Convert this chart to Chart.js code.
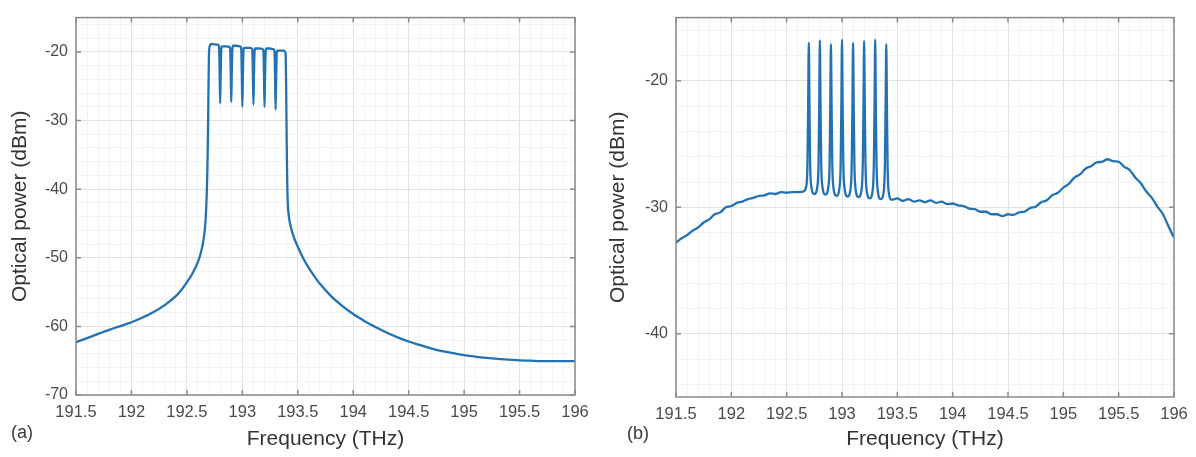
<!DOCTYPE html>
<html>
<head>
<meta charset="utf-8">
<script src="https://cdn.jsdelivr.net/npm/chart.js@4.4.1/dist/chart.umd.min.js"></script>
<style>
  html, body { margin: 0; padding: 0; background: #fff; }
  body { width: 1196px; height: 457px; position: relative; overflow: hidden; font-family: "Liberation Sans", Arial, sans-serif; }
  .panel { position: absolute; top: 0; width: 598px; height: 457px; }
  .tag { position: absolute; font-size: 18px; line-height: 1; color: #3a3a3a; }
</style>
</head>
<body>
<div class="panel" style="left:0"><canvas id="chartA" width="598" height="457"></canvas></div>
<div class="panel" style="left:598px"><canvas id="chartB" width="598" height="457"></canvas></div>
<div class="tag" style="left:11px; top:423px">(a)</div>
<div class="tag" style="left:627px; top:424px">(b)</div>
<script>
// tick labels
const freqTicks = [191.5, 192, 192.5, 193, 193.5, 194, 194.5, 195, 195.5, 196]
const powerTicksA = [-70, -60, -50, -40, -30, -20]
const powerTicksB = [-40, -30, -20]

// (a) spectrum
const freqA = [191.5, 191.6, 191.7, 191.8, 191.9, 192.0, 192.1, 192.2, 192.3, 192.4, 192.45, 192.5, 192.55, 192.6, 192.63, 192.65, 192.665, 192.675, 192.685, 192.69, 192.695, 192.7,
  192.71, 192.72, 192.75, 192.78, 192.79, 192.795, 192.8, 192.805, 192.81, 192.817,
  192.85, 192.88, 192.89, 192.895, 192.9, 192.905, 192.91, 192.917,
  192.95, 192.98, 192.99, 192.995, 193.0, 193.005, 193.01, 193.017,
  193.05, 193.08, 193.09, 193.095, 193.1, 193.105, 193.11, 193.117,
  193.15, 193.18, 193.19, 193.195, 193.2, 193.205, 193.21, 193.217,
  193.25, 193.28, 193.29, 193.295, 193.3, 193.305, 193.31, 193.317,
  193.35, 193.38, 193.39, 193.395, 193.4, 193.405, 193.41, 193.42, 193.44, 193.46, 193.5, 193.55, 193.6, 193.65, 193.7,
  193.8, 193.9, 194.0, 194.1, 194.2, 194.3, 194.4, 194.5, 194.6, 194.7, 194.8, 194.9, 195.0, 195.1, 195.2, 195.3, 195.4, 195.5, 195.6, 195.7, 195.8, 195.9, 196.0]
const powerA = [-62.3, -61.7, -61.1, -60.5, -59.95, -59.4, -58.7, -57.9, -56.9, -55.6, -54.7, -53.6, -52.3, -50.6, -49.0, -47.4, -45.3, -42.5, -37.0, -32.0, -25.0, -20.0,
  -19.0, -18.85, -18.9, -18.95, -19.2, -22.5, -27.5, -23.0, -19.7, -19.2,
  -19.2, -19.25, -19.5, -22.5, -27.3, -23.0, -19.6, -19.1,
  -19.1, -19.2, -19.45, -23.0, -28.0, -23.5, -19.9, -19.4,
  -19.4, -19.45, -19.7, -23.0, -27.7, -23.5, -20.0, -19.5,
  -19.5, -19.55, -19.8, -23.0, -28.0, -23.5, -20.0, -19.5,
  -19.5, -19.6, -19.85, -23.5, -28.4, -24.0, -20.3, -19.8,
  -19.8, -19.85, -20.2, -25.0, -33.0, -39.0, -42.0, -44.0, -45.7, -46.8, -48.4, -50.1, -51.5, -52.7, -53.8,
  -55.6, -57.0, -58.2, -59.2, -60.1, -60.9, -61.6, -62.2, -62.7, -63.2, -63.6, -63.9, -64.2, -64.4, -64.6, -64.75, -64.85, -64.95, -65.0, -65.05, -65.05, -65.05, -65.05]

// (b) spectrum
const freqB = [191.5, 191.55, 191.6, 191.65, 191.7, 191.75, 191.8, 191.85, 191.9, 191.95, 192.0, 192.05, 192.1, 192.15, 192.2, 192.25, 192.3, 192.35, 192.4, 192.45, 192.5, 192.55, 192.6, 192.65,
  192.678, 192.688, 192.694, 192.7, 192.706, 192.712, 192.722, 192.75,
  192.778, 192.788, 192.794, 192.8, 192.806, 192.812, 192.822, 192.85,
  192.878, 192.888, 192.894, 192.9, 192.906, 192.912, 192.922, 192.95,
  192.978, 192.988, 192.994, 193.0, 193.006, 193.012, 193.022, 193.05,
  193.078, 193.088, 193.094, 193.1, 193.106, 193.112, 193.122, 193.15,
  193.178, 193.188, 193.194, 193.2, 193.206, 193.212, 193.222, 193.25,
  193.278, 193.288, 193.294, 193.3, 193.306, 193.312, 193.322, 193.35,
  193.378, 193.388, 193.394, 193.4, 193.406, 193.412, 193.422, 193.45,
  193.5, 193.55, 193.6, 193.65, 193.7, 193.75, 193.8, 193.85, 193.9, 193.95, 194.0, 194.05, 194.1, 194.15, 194.2, 194.25, 194.3, 194.35, 194.4, 194.45,
  194.5, 194.55, 194.6, 194.65, 194.7, 194.75, 194.8, 194.85, 194.9, 194.95, 195.0, 195.05, 195.1, 195.15, 195.2, 195.25, 195.3, 195.35, 195.4, 195.45,
  195.5, 195.55, 195.6, 195.65, 195.7, 195.75, 195.8, 195.85, 195.9, 195.95, 196.0]
const powerB = [-32.8, -32.45, -32.2, -31.85, -31.6, -31.2, -30.95, -30.55, -30.4, -30.0, -29.9, -29.65, -29.55, -29.35, -29.25, -29.1, -29.05, -28.9, -28.95, -28.8, -28.85, -28.8, -28.8, -28.75,
  -28.3, -26.5, -22.0, -17.0, -22.0, -26.5, -28.3, -28.95,
  -28.3, -26.5, -22.0, -16.8, -22.0, -26.5, -28.3, -29.0,
  -28.3, -26.5, -22.0, -17.1, -22.0, -26.5, -28.4, -29.1,
  -28.4, -26.5, -22.0, -16.75, -22.0, -26.5, -28.4, -29.15,
  -28.5, -26.5, -22.0, -17.0, -22.0, -26.5, -28.5, -29.2,
  -28.5, -26.5, -22.0, -16.85, -22.0, -26.5, -28.6, -29.3,
  -28.6, -26.5, -22.0, -16.75, -22.0, -26.5, -28.6, -29.35,
  -28.7, -26.5, -22.0, -17.1, -22.0, -26.6, -28.8, -29.4,
  -29.3, -29.5, -29.35, -29.55, -29.45, -29.6, -29.45, -29.65, -29.55, -29.75, -29.7, -29.85, -29.9, -30.1, -30.15, -30.35, -30.35, -30.55, -30.55, -30.7,
  -30.55, -30.6, -30.4, -30.35, -30.05, -29.95, -29.6, -29.45, -29.05, -28.85, -28.45, -28.15, -27.65, -27.4, -26.95, -26.75, -26.45, -26.4, -26.2, -26.35,
  -26.4, -26.8, -27.05, -27.65, -28.1, -28.75, -29.25, -29.95, -30.55, -31.5, -32.4]

const FONT = "'Liberation Sans', Arial, sans-serif"
const lineColor = '#2271b3'

function isMajor(v, list) {
  return list.some(t => Math.abs(t - v) < 1e-6)
}

function minorList(from, to, step) {
  const out = []
  for (let v = from; v <= to + 1e-9; v += step) out.push(Math.round(v * 100) / 100)
  return out
}

// box round the axes with MATLAB-like inner ticks
const framePlugin = {
  id: 'frame',
  afterDatasetsDraw(chart, args, opts) {
    const {ctx, chartArea: a, scales} = chart
    ctx.save()
    ctx.strokeStyle = '#8a8a8a'
    ctx.lineWidth = 1.5
    ctx.strokeRect(a.left, a.top, a.right - a.left, a.bottom - a.top)
    ctx.beginPath()
    freqTicks.forEach(v => {
      const px = scales.x.getPixelForValue(v)
      ctx.moveTo(px, a.bottom); ctx.lineTo(px, a.bottom - 5)
      ctx.moveTo(px, a.top); ctx.lineTo(px, a.top + 5)
    })
    opts.yTicks.forEach(v => {
      const py = scales.y.getPixelForValue(v)
      ctx.moveTo(a.left, py); ctx.lineTo(a.left + 5, py)
      ctx.moveTo(a.right, py); ctx.lineTo(a.right - 5, py)
    })
    ctx.stroke()
    ctx.restore()
  }
}

function makeChart(id, xs, ys, yMin, yMax, yTicks, padRight, yWidth, xHeight) {
  const xAll = minorList(191.5, 196, 0.1)
  const yAll = minorList(yMin + ((yMin % 2) ? 1 : 0), yMax, 2)
  return new Chart(document.getElementById(id), {
    type: 'line',
    data: {
      datasets: [{
        data: xs.map((x, i) => ({x: x, y: ys[i]})),
        borderColor: lineColor,
        borderWidth: 2.3,
        pointRadius: 0,
        fill: false,
        cubicInterpolationMode: 'monotone'
      }]
    },
    plugins: [framePlugin],
    options: {
      responsive: false,
      animation: false,
      devicePixelRatio: 1,
      layout: {padding: {top: 9, right: padRight, left: 0, bottom: 0}},
      plugins: {
        legend: {display: false},
        tooltip: {enabled: false},
        frame: {yTicks: yTicks}
      },
      scales: {
        x: {
          type: 'linear',
          min: 191.5,
          max: 196,
          afterBuildTicks: axis => { axis.ticks = xAll.map(v => ({value: v})) },
          afterFit: s => { s.height = xHeight },
          ticks: {
            autoSkip: false,
            maxRotation: 0,
            padding: 8,
            color: '#4a4a4a',
            font: {family: FONT, size: 16.5},
            callback: v => isMajor(v, freqTicks) ? String(Math.round(v * 10) / 10) : ''
          },
          grid: {
            drawTicks: false,
            color: c => isMajor(c.tick.value, freqTicks) ? '#e2e2e2' : '#f3f3f3',
            lineWidth: 1
          },
          border: {display: false},
          title: {
            display: true,
            text: 'Frequency (THz)',
            color: '#333',
            font: {family: FONT, size: 21},
            padding: {top: 0, bottom: 5}
          }
        },
        y: {
          min: yMin,
          max: yMax,
          afterBuildTicks: axis => { axis.ticks = yAll.map(v => ({value: v})) },
          afterFit: s => { s.width = yWidth },
          ticks: {
            autoSkip: false,
            padding: 8,
            color: '#4a4a4a',
            font: {family: FONT, size: 16},
            callback: v => isMajor(v, yTicks) ? String(v) : ''
          },
          grid: {
            drawTicks: false,
            color: c => isMajor(c.tick.value, yTicks) ? '#e2e2e2' : '#f3f3f3',
            lineWidth: 1
          },
          border: {display: false},
          title: {
            display: true,
            text: 'Optical power (dBm)',
            color: '#333',
            font: {family: FONT, size: 21},
            padding: {top: 8, bottom: 0}
          }
        }
      }
    }
  })
}

const chartA = makeChart('chartA', freqA, powerA, -70, -15, powerTicksA, 23, 76, 62)
const chartB = makeChart('chartB', freqB, powerB, -45, -15, powerTicksB, 22, 78, 60)
</script>
</body>
</html>
